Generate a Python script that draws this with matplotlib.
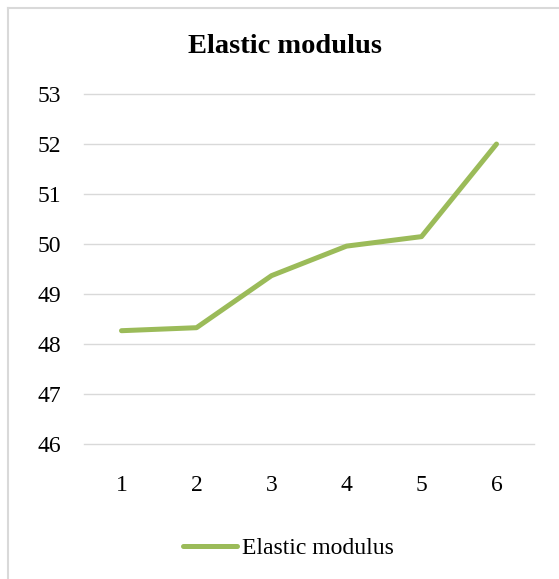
import matplotlib
matplotlib.use("Agg")
import matplotlib.pyplot as plt
from matplotlib.lines import Line2D

categories = ["1", "2", "3", "4", "5", "6"]
values = [48.27, 48.33, 49.37, 49.96, 50.15, 52.0]
series_name = "Elastic modulus"
title = "Elastic modulus"
y_ticks = [46, 47, 48, 49, 50, 51, 52, 53]

plt.rcParams['font.family'] = ['Liberation Serif', 'DejaVu Serif']

W, H = 559, 579
fig = plt.figure(figsize=(W / 100, H / 100), dpi=100)
fig.patch.set_facecolor('white')

# chart border (cropped at right and bottom)
fig.add_artist(Line2D([7.5 / W, 7.5 / W], [0, 1 - 7.5 / H], transform=fig.transFigure,
                      color='#D9D9D9', lw=1.5))
fig.add_artist(Line2D([7.5 / W, 1], [1 - 7.5 / H, 1 - 7.5 / H], transform=fig.transFigure,
                      color='#D9D9D9', lw=1.5))

left, right = 84 / W, 534 / W
bottom, top = 1 - 444.3 / H, 1 - 94 / H
ax = fig.add_axes([left, bottom, right - left, top - bottom])

x = list(range(1, len(categories) + 1))
line, = ax.plot(x, values, color='#9BBB59', lw=3.6, solid_capstyle='round',
                solid_joinstyle='round', label=series_name, zorder=3)

ax.set_xlim(0.5, len(categories) + 0.5)
ax.set_ylim(min(y_ticks), max(y_ticks))
ax.set_yticks(y_ticks)
ax.set_xticks(x)
ax.set_xticklabels(categories)
ax.grid(axis='y', color='#D9D9D9', lw=1.0)
for gl in ax.get_ygridlines():
    gl.set_clip_on(False)
ax.set_axisbelow(True)
for s in ax.spines.values():
    s.set_visible(False)
ax.tick_params(axis='both', length=0, labelsize=17, colors='#000000')
ax.tick_params(axis='y', pad=16.5)
ax.tick_params(axis='x', pad=22)

fig.text(285.5 / W, 1 - 46.5 / H, title, ha='center', va='center',
         fontsize=20.5, fontweight='bold')

fig.legend(handles=[line], labels=[series_name], loc='center',
           bbox_to_anchor=(288 / W, 1 - 548.5 / H), frameon=False,
           fontsize=17, handlelength=2.3, handletextpad=0.2)

fig.savefig('out.png', dpi=100, facecolor='white')
